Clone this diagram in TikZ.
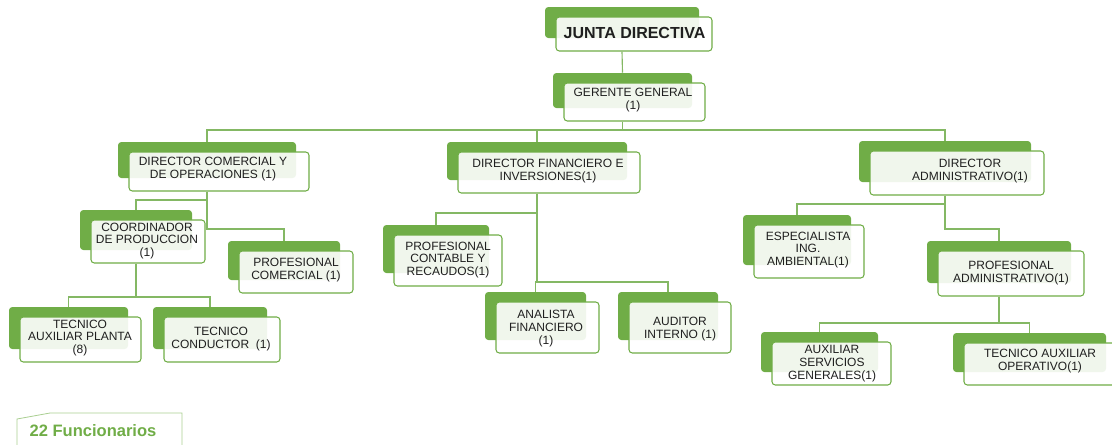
\documentclass[tikz,border=0pt]{standalone}
\usepackage{fontspec}
\setmainfont{Liberation Sans}
\usetikzlibrary{fit,calc}

\definecolor{orgGreen}{HTML}{70AD47}
\definecolor{orgLine}{HTML}{84B864}
\definecolor{orgText}{HTML}{1F1F1F}

\tikzset{
  gbox/.style={fill=orgGreen, draw=none, rounded corners=2.5pt, inner sep=0pt},
  wbox/.style={fill=white, fill opacity=0.9, draw=orgGreen, draw opacity=1,
               line width=0.8pt, rounded corners=2.5pt, inner sep=0pt},
  unitlabel/.style={text=orgText, align=center, inner sep=0pt,
                    font=\fontsize{9pt}{9.7pt}\selectfont},
  link/.style={draw=orgLine, line width=0.85pt},
}

% one position of the chart: a solid green block with a white card over it
% #1 name, #2-#5 green block corners (px), #6,#7 label centre (px), #8 label
\newcommand{\orgunit}[8]{%
  \node[gbox, fit={(#2,#3) (#4,#5)}] (#1-g) {};
  \node[wbox, fit={($(#2,#3)+(11,10)$) ($(#4,#5)+(13,13)$)}] (#1) {};
  \node[unitlabel] (#1-t) at (#6,#7) {#8};
}

% elbow connector: parent card bottom, down to bar height #2, over to child block
\newcommand{\orglink}[3]{%
  \draw[link] (#1-g.center |- #1.south) -- (#1-g.center |- 0,#2) -| (#3-g.north);
}

\begin{document}
\begin{tikzpicture}[x=0.75pt, y=-0.75pt]
\useasboundingbox (0,0) rectangle (1112,444);

% top levels
\orgunit{jd}{545}{7}{699}{38}{634.5}{33}{\fontsize{12pt}{12pt}\selectfont\bfseries JUNTA DIRECTIVA}
\orgunit{ger}{553}{73}{692}{108}{633}{100}{GERENTE GENERAL\\(1)}

% directors
\orgunit{dcom}{118}{142}{296}{178}{213}{169.5}{DIRECTOR COMERCIAL Y\\DE OPERACIONES (1)}
\orgunit{dfin}{447}{142}{627}{180}{548}{171.5}{DIRECTOR FINANCIERO E\\INVERSIONES(1)}
\orgunit{dadm}{859}{141}{1031}{182}{970}{171.5}{DIRECTOR\\ADMINISTRATIVO(1)}

% commercial branch
\orgunit{coord}{80}{210}{192}{250}{147}{241}{COORDINADOR\\DE PRODUCCION\\(1)}
\orgunit{pcom}{228}{241}{340}{280}{296}{270}{PROFESIONAL\\COMERCIAL (1)}
\orgunit{tplanta}{9}{307}{128}{349}{80}{338}{TECNICO\\AUXILIAR PLANTA\\(8)}
\orgunit{tcond}{153}{307}{267}{349}{221}{339.5}{TECNICO\\CONDUCTOR~~(1)}

% financial branch
\orgunit{pcont}{383}{225}{489}{273}{448}{260}{PROFESIONAL\\CONTABLE Y\\RECAUDOS(1)}
\orgunit{anal}{485}{292}{586}{340}{546}{328.5}{ANALISTA\\FINANCIERO\\(1)}
\orgunit{audit}{618}{292}{718}{340}{680}{329}{AUDITOR\\INTERNO (1)}

% administrative branch
\orgunit{esp}{743}{215}{851}{265}{808}{250}{ESPECIALISTA\\ING.\\AMBIENTAL(1)}
\orgunit{padm}{927}{241}{1071}{283}{1011}{273.5}{PROFESIONAL\\ADMINISTRATIVO(1)}
\orgunit{aux}{761}{332}{878}{372}{832}{364}{AUXILIAR\\SERVICIOS\\GENERALES(1)}
\orgunit{top}{953}{333}{1106}{372}{1040}{361.5}{TECNICO AUXILIAR\\OPERATIVO(1)}

% connectors
\draw[link] (jd-g.center |- jd.south) -- (ger-g.north);
\orglink{ger}{130}{dcom}
\orglink{ger}{130}{dfin}
\orglink{ger}{130}{dadm}
\orglink{dcom}{200}{coord}
\orglink{dcom}{229}{pcom}
\orglink{coord}{297}{tplanta}
\orglink{coord}{297}{tcond}
\orglink{dfin}{213}{pcont}
\orglink{dfin}{282}{anal}
\orglink{dfin}{282}{audit}
\orglink{dadm}{204}{esp}
\orglink{dadm}{229}{padm}
\orglink{padm}{323}{aux}
\orglink{padm}{323}{top}

% staff total tab
\draw[draw=orgGreen!60, line width=0.6pt] (17,446) -- (17,419) -- (50,413) -- (182,413) -- (182,446);
\node[text=orgGreen, inner sep=0pt, font=\fontsize{12.4pt}{12.4pt}\selectfont\bfseries] (total) at (93,431) {22 Funcionarios};
\end{tikzpicture}
\end{document}
